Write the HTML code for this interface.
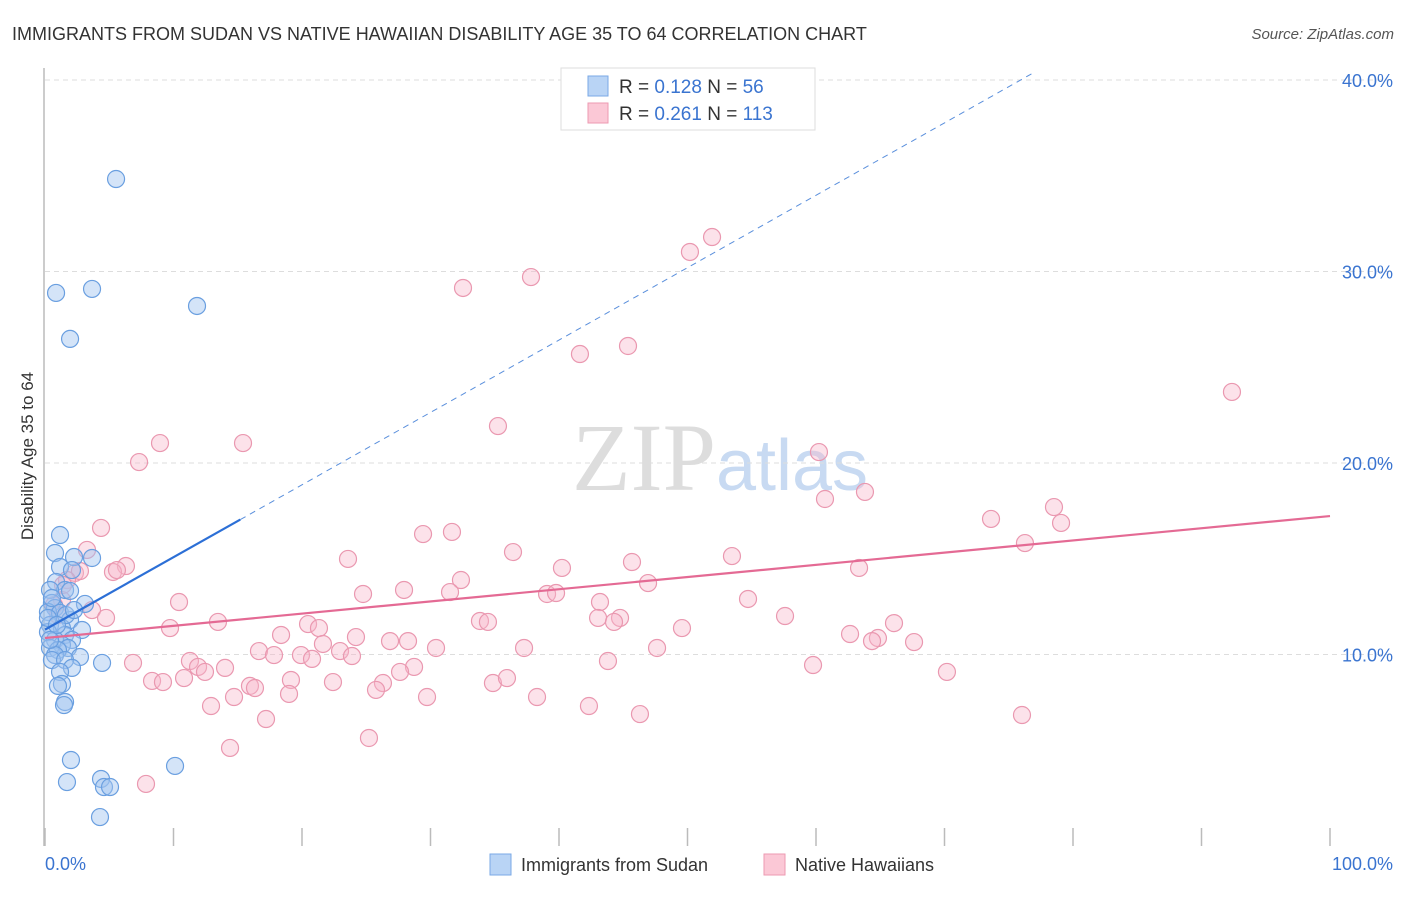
<!DOCTYPE html>
<html><head><meta charset="utf-8"><style>
body{margin:0;background:#fff;font-family:"Liberation Sans",sans-serif;}
</style></head><body>
<svg id="chart" width="1406" height="892" xmlns="http://www.w3.org/2000/svg" font-family="Liberation Sans, sans-serif">
<text x="12" y="40" font-size="18" fill="#333">IMMIGRANTS FROM SUDAN VS NATIVE HAWAIIAN DISABILITY AGE 35 TO 64 CORRELATION CHART</text>
<text x="1394" y="39" font-size="15" fill="#555" font-style="italic" text-anchor="end">Source: ZipAtlas.com</text>
<text x="720" y="490" font-size="96" fill="#ddd" text-anchor="middle" font-family="Liberation Serif, serif">ZIP<tspan fill="#c8daf2" font-family="Liberation Sans, sans-serif" font-size="72">atlas</tspan></text>
<g id="grid"></g>
<line x1="44" y1="68" x2="44" y2="846" stroke="#bbb" stroke-width="1.5"/>
<text transform="translate(33,456) rotate(-90)" font-size="17" fill="#333" text-anchor="middle">Disability Age 35 to 64</text>
<g id="points"></g>
<g id="lines"></g>
<g>
<rect x="561" y="68" width="254" height="62" fill="#fff" stroke="#ddd"/>
<rect x="588" y="76" width="20" height="20" fill="#b9d4f5" stroke="#7aa8e6"/>
<rect x="588" y="103" width="20" height="20" fill="#fbc8d6" stroke="#ec9ab2"/>
<text x="619" y="93" font-size="19" fill="#333">R = <tspan fill="#3a74d0">0.128</tspan>   N =  <tspan fill="#3a74d0">56</tspan></text>
<text x="619" y="120" font-size="19" fill="#333">R = <tspan fill="#3a74d0">0.261</tspan>   N = <tspan fill="#3a74d0">113</tspan></text>
</g>
<text x="45" y="870" font-size="18" fill="#3a74d0">0.0%</text>
<text x="1393" y="870" font-size="18" fill="#3a74d0" text-anchor="end">100.0%</text>
<g>
<rect x="490" y="854" width="21" height="21" fill="#b9d4f5" stroke="#7aa8e6"/>
<text x="521" y="871" font-size="18" fill="#333">Immigrants from Sudan</text>
<rect x="764" y="854" width="21" height="21" fill="#fbc8d6" stroke="#ec9ab2"/>
<text x="795" y="871" font-size="18" fill="#333">Native Hawaiians</text>
</g>
</svg>
<script>
const yTicks=[10,20,30,40];
const yTickLabels=["10.0%","20.0%","30.0%","40.0%"];
const xTicks=[0,10,20,30,40,50,60,70,80,90,100];
const bluePx=[[116,179],[56,293],[92,289],[197,306],[70,339],[60,535],[55,553],[74,557],[92,558],[60,567],[72,570],[56,582],[65,590],[70,591],[50,590],[52,603],[85,604],[55,608],[48,612],[60,613],[70,620],[50,625],[62,628],[82,630],[48,632],[65,635],[55,640],[72,640],[62,645],[50,648],[68,648],[58,650],[55,655],[80,657],[52,660],[65,660],[102,663],[72,668],[60,672],[62,684],[58,686],[65,702],[64,705],[71,760],[67,782],[101,779],[175,766],[104,787],[110,787],[100,817],[48,618],[52,598],[66,615],[57,625],[74,610],[50,640]];
const pinkPx=[[690,252],[712,237],[531,277],[463,288],[580,354],[628,346],[1232,392],[498,426],[819,452],[160,443],[243,443],[139,462],[825,499],[865,492],[991,519],[1054,507],[1061,523],[1025,543],[101,528],[87,550],[423,534],[452,532],[348,559],[513,552],[632,562],[732,556],[562,568],[859,568],[75,573],[80,571],[126,566],[113,572],[117,570],[461,580],[648,583],[404,590],[363,594],[547,594],[556,593],[450,592],[600,602],[748,599],[179,602],[92,610],[106,618],[785,616],[218,622],[308,624],[319,628],[170,628],[480,621],[488,622],[598,618],[620,618],[614,622],[682,628],[894,623],[281,635],[356,637],[323,644],[390,641],[408,641],[436,648],[850,634],[878,638],[872,641],[914,642],[259,651],[274,655],[301,655],[312,659],[340,651],[352,656],[524,648],[657,648],[133,663],[190,661],[198,667],[225,668],[205,672],[414,667],[400,672],[608,661],[813,665],[947,672],[152,681],[163,682],[184,678],[291,680],[333,682],[383,683],[376,690],[250,686],[255,688],[234,697],[289,694],[493,683],[507,678],[427,697],[537,697],[211,706],[589,706],[640,714],[1022,715],[266,719],[230,748],[369,738],[146,784],[67,580],[62,600],[54,605],[58,615],[63,585]];
// convert reading to data values (x %, y %)
const blueX=bluePx.map(p=>+((p[0]-45)/12.85).toFixed(2));
const blueY=bluePx.map(p=>+((846-p[1])/19.15).toFixed(2));
const pinkX=pinkPx.map(p=>+((p[0]-45)/12.85).toFixed(2));
const pinkY=pinkPx.map(p=>+((846-p[1])/19.15).toFixed(2));
const blueFit=[11.3,0.378]; // intercept, slope
const blueSolidEnd=15.2;
const pinkFit=[10.86,0.0637];

const sx=v=>45+v*12.85, sy=v=>846-v*19.15;
const NS="http://www.w3.org/2000/svg";
function mk(tag,attrs,parent){const e=document.createElementNS(NS,tag);for(const k in attrs)e.setAttribute(k,attrs[k]);parent.appendChild(e);return e;}
const grid=document.getElementById('grid');
yTicks.forEach((t,i)=>{
 const l=mk('line',{x1:45,x2:1393,y1:sy(t),y2:sy(t),stroke:'#ddd','stroke-dasharray':'5,4'},grid);
 
 
 const tx=mk('text',{x:1393,y:sy(t)+7,'font-size':18,fill:'#3a74d0','text-anchor':'end'},grid);
 tx.textContent=yTickLabels[i];
 
 
});
xTicks.forEach(t=>{
 const l=mk('line',{x1:sx(t),x2:sx(t),y1:828,y2:846,stroke:'#bbb','stroke-width':1.5},grid);
 
 
});
const pts=document.getElementById('points');
pinkX.forEach((x,i)=>{
 const c=mk('circle',{cx:sx(x),cy:sy(pinkY[i]),r:8.5,fill:'rgba(248,182,202,0.4)',stroke:'#ea98b0','stroke-width':1.2},pts);
 
 
});
blueX.forEach((x,i)=>{
 const c=mk('circle',{cx:sx(x),cy:sy(blueY[i]),r:8.5,fill:'rgba(160,196,240,0.45)',stroke:'#6a9fe0','stroke-width':1.2},pts);
 
 
});
const ln=document.getElementById('lines');
const bl=x=>blueFit[0]+blueFit[1]*x;
const xEnd=(40.4-blueFit[0])/blueFit[1];
let a=mk('line',{x1:sx(0),y1:sy(bl(0)),x2:sx(blueSolidEnd),y2:sy(bl(blueSolidEnd)),stroke:'#2c6fd6','stroke-width':2.2},ln);


a=mk('line',{x1:sx(blueSolidEnd),y1:sy(bl(blueSolidEnd)),x2:sx(xEnd),y2:sy(bl(xEnd)),stroke:'#5a8fdc','stroke-width':1,'stroke-dasharray':'6,5'},ln);


a=mk('line',{x1:sx(0),y1:sy(pinkFit[0]),x2:sx(100),y2:sy(pinkFit[0]+pinkFit[1]*100),stroke:'#e46a94','stroke-width':2.2},ln);


</script>
</body></html>
